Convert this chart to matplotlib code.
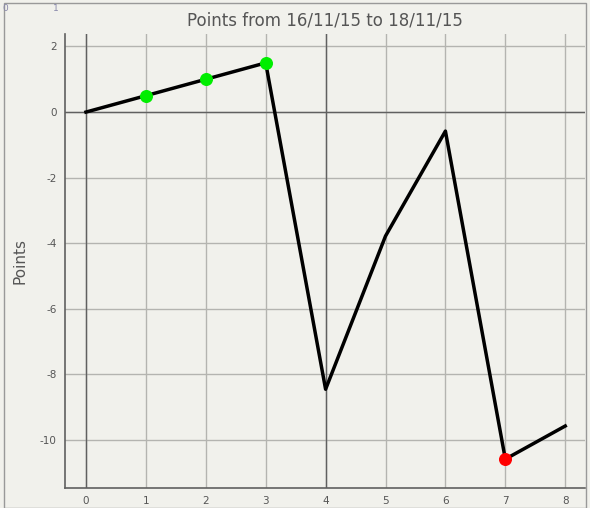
import matplotlib
matplotlib.use("Agg")
import matplotlib.pyplot as plt
from matplotlib.patches import Rectangle

plt.rcParams["axes.unicode_minus"] = False

# Data
x = [0, 1, 2, 3, 4, 5, 6, 7, 8]
points = [0, 0.5, 1.0, 1.5, -8.45, -3.78, -0.58, -10.58, -9.57]
green_x = [1, 2, 3]
green_y = [0.5, 1.0, 1.5]
red_x = [7]
red_y = [-10.58]
xticks = [0, 1, 2, 3, 4, 5, 6, 7, 8]
yticks = [2, 0, -2, -4, -6, -8, -10]

bg = "#f1f1ec"
txt = "#555555"

fig = plt.figure(figsize=(5.9, 5.08), dpi=100, facecolor=bg)
ax = fig.add_axes([65 / 590, 20 / 508, 520 / 590, 454 / 508], facecolor=bg)

ax.set_xlim(-0.35, 8.33)
ax.set_ylim(-11.46, 2.38)
ax.set_xticks(xticks)
ax.set_yticks(yticks)
ax.grid(True, color="#b4b4b0", linewidth=1)
ax.set_axisbelow(True)
ax.axhline(0, color="#606060", linewidth=1, zorder=1)
ax.axvline(0, color="#606060", linewidth=1, zorder=1)
ax.axvline(4, color="#606060", linewidth=1, zorder=1)

ax.plot(x, points, color="black", linewidth=2.5, zorder=3)
ax.scatter(green_x, green_y, s=70, color="#00ee00", zorder=4)
ax.scatter(red_x, red_y, s=70, color="#ff0000", zorder=4)

for s in ["top", "right"]:
    ax.spines[s].set_visible(False)
for s in ["left", "bottom"]:
    ax.spines[s].set_color("#606060")
    ax.spines[s].set_linewidth(1.2)
ax.tick_params(length=0, labelsize=7.5, labelcolor=txt, pad=6)

ax.set_title("Points from 16/11/15 to 18/11/15", fontsize=12, color=txt, pad=6)
ax.set_ylabel("Points", fontsize=11, color=txt, labelpad=9)

# outer frame and corner labels
fig.patches.append(Rectangle((4 / 590, 0), 582 / 590, 0.995, transform=fig.transFigure,
                             fill=False, edgecolor="#999999", linewidth=1))
fig.text(2 / 590, 1 - 11 / 508, "0", fontsize=6.5, color="#8888aa")
fig.text(53 / 590, 1 - 11 / 508, "1", fontsize=6.5, color="#8888aa")

fig.savefig("out.png", dpi=100, facecolor=bg)
